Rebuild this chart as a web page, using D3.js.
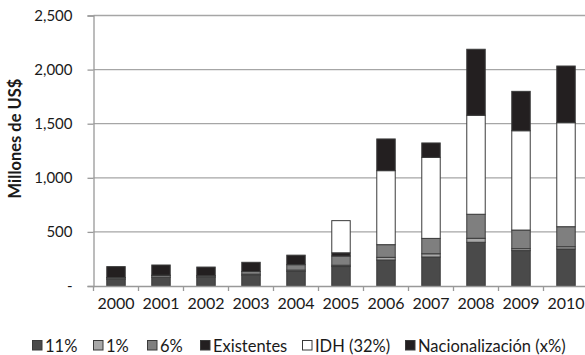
<!DOCTYPE html>
<html>
<head>
<meta charset="utf-8">
<script src="https://cdn.jsdelivr.net/npm/d3@7"></script>
<style>
  body { margin: 0; background: #fff; }
  svg { display: block; }
  text { font-family: Lato, "Open Sans", sans-serif; fill: #1a1a1a; }
</style>
</head>
<body>
<svg id="chart" width="585" height="355"></svg>
<script>
const years = ["2000","2001","2002","2003","2004","2005","2006","2007","2008","2009","2010"];
const seriesNames = ["11%", "1%", "6%", "Existentes", "IDH (32%)", "Nacionalización (x%)"];
const s11 = [62, 80, 80, 99, 135, 180, 240, 268, 404, 327, 342];
const s1 = [12, 15, 12, 10, 12, 12, 25, 30, 37, 18, 21];
const s6 = [5, 5, 3, 25, 50, 85, 117, 142, 222, 172, 185];
const existentes = [100, 94, 80, 85, 88, 30, 0, 0, 0, 0, 0];
const idh = [0, 0, 0, 0, 0, 297, 684, 749, 915, 918, 961];
const nacionalizacion = [0, 0, 0, 0, 0, 0, 293, 133, 610, 364, 524];
const yTicks = [0, 500, 1000, 1500, 2000, 2500];

const colors = ["#4a4a4a", "#a8a8a8", "#7f7f7f", "#231f20", "#ffffff", "#231f20"];
const seriesVals = [s11, s1, s6, existentes, idh, nacionalizacion];

const rows = years.map((y, i) => {
  const r = { year: y };
  seriesNames.forEach((n, k) => r[n] = seriesVals[k][i]);
  return r;
});

const svg = d3.select("#chart");
const x = d3.scaleBand().domain(years).range([93.5, 588.5]).padding(0);
const y = d3.scaleLinear().domain([0, 2500]).range([286, 15.5]);

// gridlines
svg.append("g").selectAll("line").data(yTicks.filter(d => d > 0)).join("line")
  .attr("x1", 93.5).attr("x2", 585)
  .attr("y1", d => y(d)).attr("y2", d => y(d))
  .attr("stroke", "#a6a6a6").attr("stroke-width", 1.3);

// y axis
const yAxis = svg.append("g").attr("transform", "translate(93.5,0)")
  .call(d3.axisLeft(y).tickValues(yTicks).tickSize(6).tickPadding(15)
    .tickFormat(d => d === 0 ? "-" : d3.format(",")(d)));
yAxis.select(".domain").attr("stroke", "#999").attr("stroke-width", 1.3);
yAxis.selectAll(".tick line").attr("stroke", "#999").attr("stroke-width", 1.3);
yAxis.selectAll("text").style("font-size", "15px").attr("fill", "#1a1a1a");

// bars
const stack = d3.stack().keys(seriesNames)(rows);
const bw = x.bandwidth() * 0.41;
svg.append("g").selectAll("g").data(stack).join("g")
  .attr("fill", (d, i) => colors[i])
  .selectAll("rect").data(d => d.filter(p => p[1] - p[0] > 0)).join("rect")
  .attr("x", d => x(d.data.year) + (x.bandwidth() - bw) / 2)
  .attr("width", bw)
  .attr("y", d => y(d[1]))
  .attr("height", d => y(d[0]) - y(d[1]))
  .attr("stroke", "#3a3a3a").attr("stroke-width", 1);

// x axis
const xAxis = svg.append("g").attr("transform", "translate(0,286)")
  .call(d3.axisBottom(x).tickSize(0).tickPadding(12));
xAxis.select(".domain").attr("stroke", "#999").attr("stroke-width", 1.3);
xAxis.selectAll("text").style("font-size", "16px").attr("fill", "#1a1a1a");
svg.append("g").selectAll("line").data(years).join("line")
  .attr("x1", d => x(d)).attr("x2", d => x(d))
  .attr("y1", 286).attr("y2", 291)
  .attr("stroke", "#999").attr("stroke-width", 1.3);

// y title
svg.append("text")
  .attr("transform", "translate(21,138.5) rotate(-90)")
  .attr("text-anchor", "middle")
  .style("font-size", "16.5px").style("font-weight", "bold")
  .text("Millones de US$");

// legend
const legX = [32, 93, 147, 200, 302, 405];
const leg = svg.append("g").selectAll("g").data(seriesNames).join("g")
  .attr("transform", (d, i) => `translate(${legX[i]},340)`);
leg.append("rect").attr("x", 0.5).attr("y", 0.5).attr("width", 9.5).attr("height", 9.5)
  .attr("fill", (d, i) => colors[i]).attr("stroke", "#3a3a3a").attr("stroke-width", 1);
leg.append("text").attr("x", 13).attr("y", 11.5)
  .style("font-size", "16.5px").text(d => d);
</script>
</body>
</html>
